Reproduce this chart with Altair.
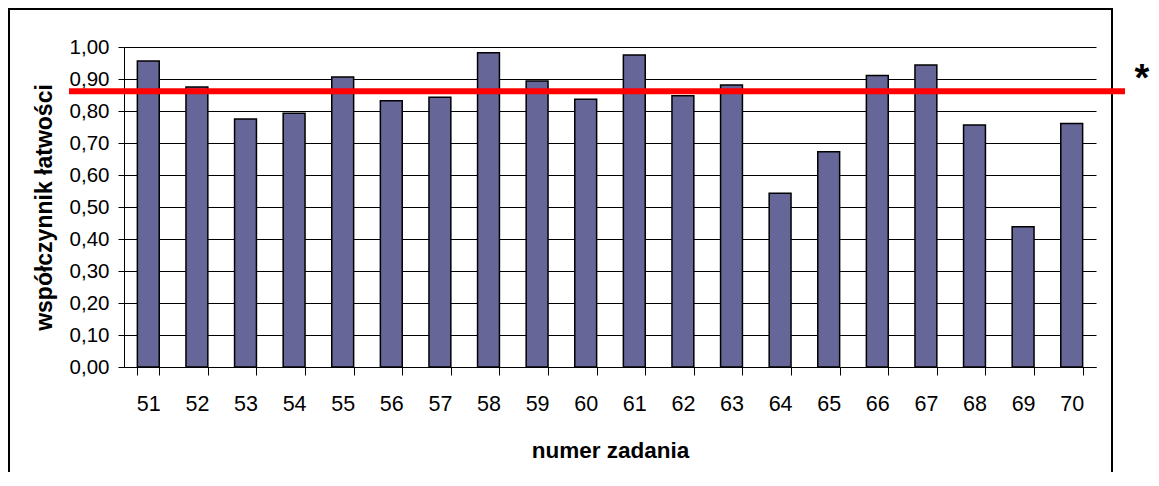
import altair as alt
import pandas as pd

# ---- data ----
tasks = [str(n) for n in range(51, 71)]
values = [0.956, 0.875, 0.775, 0.793, 0.906, 0.832, 0.843, 0.982, 0.894, 0.837,
          0.975, 0.848, 0.881, 0.543, 0.673, 0.911, 0.944, 0.756, 0.438, 0.761]
threshold = 0.862
y_ticks = [0.0, 0.1, 0.2, 0.3, 0.4, 0.5, 0.6, 0.7, 0.8, 0.9, 1.0]

df = pd.DataFrame({"zadanie": tasks, "wsp": values})

W, H = 972, 320
FONT = "Liberation Sans"

y_scale = alt.Scale(domain=[0, 1], nice=False)
y_axis = alt.Axis(title="współczynnik łatwości", values=y_ticks,
                  labelExpr="replace(format(datum.value, '.2f'), '.', ',')",
                  tickSize=6, tickColor="black", domainColor="black",
                  gridColor="black", gridWidth=1, grid=True,
                  labelFontSize=20.5, labelFont=FONT, labelColor="black",
                  labelPadding=9, labelOverlap=False, labelBound=False,
                  titleFont=FONT, titleFontSize=23,
                  titleFontWeight="bold", titleColor="black", titlePadding=13)

bars = alt.Chart(df).mark_bar(color="#666699", stroke="black", strokeWidth=1.5).encode(
    x=alt.X("zadanie:N", sort=tasks,
            scale=alt.Scale(paddingInner=0.55, paddingOuter=0.275),
            axis=alt.Axis(title="numer zadania", labelAngle=0, tickBand="extent",
                          tickSize=8, tickColor="black", domainColor="black",
                          labelFontSize=21.5, labelFont=FONT, labelColor="black",
                          labelPadding=18, labelOverlap=False,
                          titleFont=FONT, titleFontSize=22.5,
                          titleFontWeight="bold", titleColor="black", titlePadding=25,
                          grid=False)),
    y=alt.Y("wsp:Q", scale=y_scale, axis=y_axis),
)

thr = alt.Chart(pd.DataFrame({"wsp": [threshold]})).mark_rule(
    color="#ff0000", strokeWidth=6).encode(
    y=alt.Y("wsp:Q", scale=y_scale, axis=y_axis), x=alt.value(-55), x2=alt.value(1001))

star = alt.Chart(pd.DataFrame({"s": ["*"]})).mark_text(
    fontSize=38, fontWeight="bold", font=FONT, color="black",
    align="center", baseline="alphabetic").encode(
    text="s:N", x=alt.value(1018), y=alt.value(44))

frame = alt.Chart(pd.DataFrame({"f": [1]})).mark_rect(
    fill=None, stroke="black", strokeWidth=2).encode(
    x=alt.value(-115), x2=alt.value(988), y=alt.value(-38), y2=alt.value(460))

chart = alt.layer(frame, bars, thr, star).properties(
    width=W, height=H,
    autosize=alt.AutoSizeParams(type="none"),
    padding={"left": 116, "top": 39, "right": 55, "bottom": 105},
    background="white",
).configure_view(stroke=None).configure_axis(domainWidth=1, tickWidth=1)

chart.save("out.html", embed_options={"renderer": "svg", "actions": False})
